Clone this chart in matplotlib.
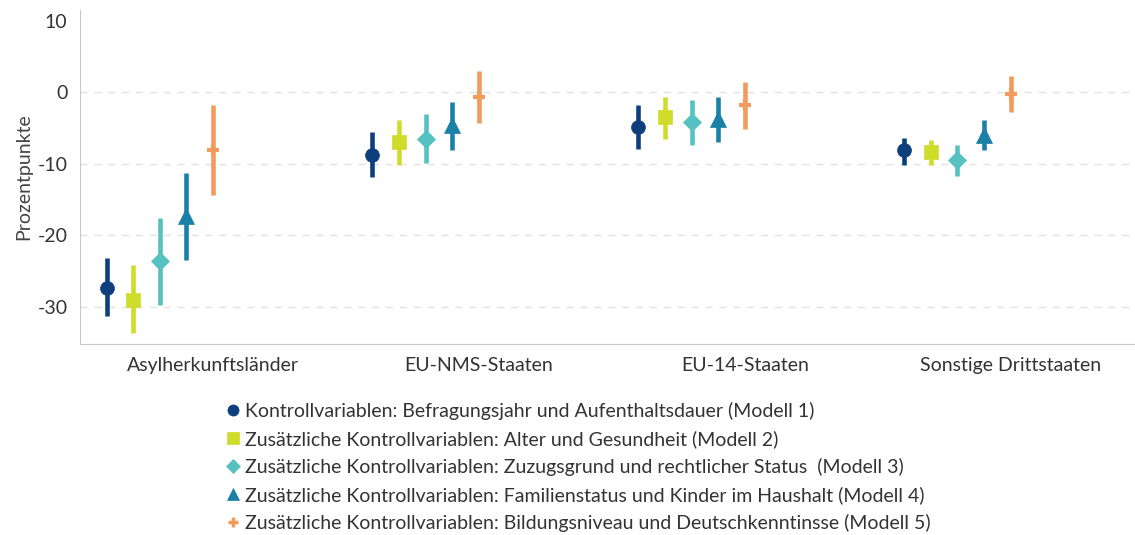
import numpy as np
import matplotlib
matplotlib.use("Agg")
import matplotlib.pyplot as plt
from matplotlib.lines import Line2D

plt.rcParams['font.family'] = ['Lato', 'DejaVu Sans']
plt.rcParams['axes.unicode_minus'] = False

kategorien = ["Asylherkunftsländer", "EU-NMS-Staaten", "EU-14-Staaten", "Sonstige Drittstaaten"]
modelle = [
    "Kontrollvariablen: Befragungsjahr und Aufenthaltsdauer (Modell 1)",
    "Zusätzliche Kontrollvariablen: Alter und Gesundheit (Modell 2)",
    "Zusätzliche Kontrollvariablen: Zuzugsgrund und rechtlicher Status  (Modell 3)",
    "Zusätzliche Kontrollvariablen: Familienstatus und Kinder im Haushalt (Modell 4)",
    "Zusätzliche Kontrollvariablen: Bildungsniveau und Deutschkenntinsse (Modell 5)",
]

# Schätzwerte je Modell (Reihenfolge wie kategorien)
m1 = [-27.3, -8.7, -4.8, -8.1]
m2 = [-29.0, -6.9, -3.4, -8.3]
m3 = [-23.6, -6.5, -4.1, -9.4]
m4 = [-17.3, -4.6, -3.7, -6.0]
m5 = [-8.0, -0.6, -1.8, -0.2]
# Konfidenzintervalle: obere / untere Grenze
m1_hi = [-23.1, -5.5, -1.8, -6.4]
m1_lo = [-31.3, -11.8, -7.9, -10.1]
m2_hi = [-24.2, -3.9, -0.7, -6.6]
m2_lo = [-33.6, -10.1, -6.5, -10.1]
m3_hi = [-17.6, -3.0, -1.0, -7.3]
m3_lo = [-29.7, -9.9, -7.3, -11.7]
m4_hi = [-11.3, -1.4, -0.7, -3.8]
m4_lo = [-23.4, -8.0, -7.0, -8.0]
m5_hi = [-1.8, 3.0, 1.4, 2.3]
m5_lo = [-14.3, -4.3, -5.1, -2.8]

werte = [m1, m2, m3, m4, m5]
obere = [m1_hi, m2_hi, m3_hi, m4_hi, m5_hi]
untere = [m1_lo, m2_lo, m3_lo, m4_lo, m5_lo]

farben = ["#0d3f7d", "#cfdc2a", "#55c1c0", "#1a80a8", "#f29b5c"]
marker = ["o", "s", "D", "^", "+"]
msize = [10, 10, 9, 11, 9]

fig = plt.figure(figsize=(11.35, 5.35), dpi=100)
ax = fig.add_axes([0.0705, 0.357, 0.93, 0.624])

x = np.arange(len(kategorien))
for i in range(5):
    xs = x + (i - 4) * 0.1
    w = np.array(werte[i])
    yerr = [w - np.array(untere[i]), np.array(obere[i]) - w]
    ax.errorbar(xs, w, yerr=yerr, fmt=marker[i], color=farben[i], ecolor=farben[i],
                elinewidth=3.3, capsize=0, markersize=msize[i],
                markeredgewidth=3 if marker[i] == "+" else 0.5, zorder=3)

ax.set_xlim(-0.5, 3.47)
ax.set_ylim(-35.2, 11.5)
ax.set_yticks([10, 0, -10, -20, -30])
ax.set_xticks(x)
ax.set_xticklabels(kategorien)
ax.tick_params(length=0, labelsize=14, labelcolor="#333333", pad=9)
ax.set_ylabel("Prozentpunkte", fontsize=14, color="#444444", labelpad=4)

ax.yaxis.grid(True, linestyle=(0, (5, 5)), color="#e2e2e2", linewidth=1)
ax.set_axisbelow(True)
ax.get_ygridlines()[0].set_visible(False)

for s in ["top", "right"]:
    ax.spines[s].set_visible(False)
for s in ["left", "bottom"]:
    ax.spines[s].set_color("#c8c8c8")

handles = [Line2D([], [], linestyle="none", marker=marker[i], color=farben[i],
                  markersize=msize[i] - 2, markeredgewidth=2.5 if marker[i] == "+" else 0.5)
           for i in range(5)]
fig.legend(handles, modelle, loc="upper left", bbox_to_anchor=(0.193, 0.263),
           frameon=False, fontsize=14, handlelength=0.6, handletextpad=0.35,
           labelspacing=0.51, labelcolor="#333333", borderaxespad=0)

fig.savefig("out.png", dpi=100)
